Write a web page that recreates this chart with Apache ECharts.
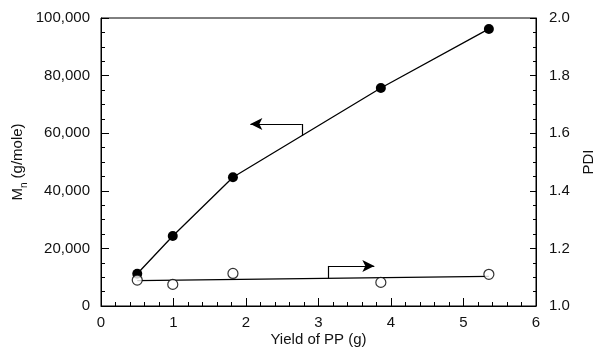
<!DOCTYPE html>
<html>
<head>
<meta charset="utf-8">
<script src="https://cdn.jsdelivr.net/npm/echarts@6/dist/echarts.min.js"></script>
<style>
  html, body { margin: 0; padding: 0; background: #fff; }
  #chart { width: 593px; height: 349px; }
</style>
</head>
<body>
<div id="chart"></div>
<script>
// yield of PP (g)
var yieldPP = [0.5, 0.99, 1.82, 3.86, 5.35];
// Mn (g/mole), filled circles, left axis
var mnValues = [11200, 24300, 44700, 75700, 96200];
// PDI, open circles, right axis
var pdiValues = [1.09, 1.075, 1.113, 1.082, 1.11];
// straight line drawn through the PDI points
var pdiFitX = [0.5, 5.35];
var pdiFitY = [1.088, 1.103];

// arrow pointing at the left axis (Mn)
var mnArrowX = [2.77, 2.06];
var mnArrowY = [59100, 63200];
// arrow pointing at the right axis (PDI)
var pdiArrowX = [3.14, 3.77];
var pdiArrowY = [1.096, 1.139];

var textColor = '#111';
var font = 'Liberation Sans, Arial, Helvetica, sans-serif';

function pairs(xs, ys) {
    var out = [];
    xs.forEach(function (x, i) {
        out.push([x, ys[i]]);
    });
    return out;
}

var chart = echarts.init(document.getElementById('chart'));

chart.setOption({
    animation: false,
    backgroundColor: '#fff',
    textStyle: { fontFamily: font, color: textColor },
    grid: {
        left: 101,
        right: 57,
        top: 18,
        bottom: 43,
        outerBoundsMode: 'none',
        containLabel: false,
        show: true,
        borderColor: '#000',
        borderWidth: 1
    },
    xAxis: {
        type: 'value',
        min: 0,
        max: 6,
        interval: 1,
        name: 'Yield of PP (g)',
        nameLocation: 'middle',
        nameMoveOverlap: false,
        nameGap: 26,
        nameTextStyle: { fontSize: 15, color: textColor, fontFamily: font },
        axisLine: { lineStyle: { color: '#000', width: 1 } },
        axisTick: { inside: true, length: 8, lineStyle: { color: '#000' } },
        minorTick: { show: true, splitNumber: 5, length: 4, lineStyle: { color: '#000' } },
        axisLabel: { fontSize: 15, color: textColor, margin: 9, fontFamily: font },
        splitLine: { show: false }
    },
    yAxis: [
        {
            type: 'value',
            min: 0,
            max: 100000,
            interval: 20000,
            name: '{m|M}{s|n}{m| (g/mole)}',
            nameLocation: 'middle',
            nameMoveOverlap: false,
            nameRotate: 90,
            nameGap: 72,
            nameTextStyle: {
                color: textColor,
                fontFamily: font,
                rich: {
                    m: { fontSize: 15, color: textColor, fontFamily: font },
                    s: { fontSize: 10, color: textColor, fontFamily: font, padding: [12, 0, 0, 0] }
                }
            },
            axisLine: { show: true, lineStyle: { color: '#000', width: 1 } },
            axisTick: { inside: true, length: 8, lineStyle: { color: '#000' } },
            minorTick: { show: true, splitNumber: 4, length: 4, lineStyle: { color: '#000' } },
            axisLabel: {
                fontSize: 15,
                color: textColor,
                margin: 11,
                fontFamily: font,
                formatter: function (v) { return v.toLocaleString('en-US'); }
            },
            splitLine: { show: false }
        },
        {
            type: 'value',
            position: 'right',
            min: 1.0,
            max: 2.0,
            interval: 0.2,
            name: 'PDI',
            nameLocation: 'middle',
            nameMoveOverlap: false,
            nameRotate: 90,
            nameGap: 45,
            nameTextStyle: { fontSize: 15, color: textColor, fontFamily: font },
            axisLine: { show: true, lineStyle: { color: '#000', width: 1 } },
            axisTick: { inside: true, length: 6, lineStyle: { color: '#000' } },
            minorTick: { show: true, splitNumber: 4, length: 3, lineStyle: { color: '#000' } },
            axisLabel: {
                fontSize: 15,
                color: textColor,
                margin: 13,
                fontFamily: font,
                formatter: function (v) { return v.toFixed(1); }
            },
            splitLine: { show: false }
        }
    ],
    series: [
        {
            name: 'Mn',
            type: 'line',
            yAxisIndex: 0,
            data: pairs(yieldPP, mnValues),
            symbol: 'circle',
            symbolSize: 10,
            itemStyle: { color: '#000' },
            lineStyle: { color: '#000', width: 1.3 },
            z: 5,
            markLine: {
                silent: true,
                symbol: ['none', 'none'],
                lineStyle: { color: '#000', width: 1.2, type: 'solid' },
                label: { show: false },
                data: [
                    [
                        { coord: [mnArrowX[0], mnArrowY[0]] },
                        { coord: [mnArrowX[0], mnArrowY[1]] }
                    ],
                    [
                        { coord: [mnArrowX[0], mnArrowY[1]], symbol: 'none' },
                        { coord: [mnArrowX[1], mnArrowY[1]], symbol: 'arrow', symbolSize: [9, 12] }
                    ]
                ]
            }
        },
        {
            name: 'PDI fit',
            type: 'line',
            yAxisIndex: 1,
            data: pairs(pdiFitX, pdiFitY),
            symbol: 'none',
            lineStyle: { color: '#000', width: 1.2 },
            z: 3,
            markLine: {
                silent: true,
                symbol: ['none', 'none'],
                lineStyle: { color: '#000', width: 1.2, type: 'solid' },
                label: { show: false },
                data: [
                    [
                        { coord: [pdiArrowX[0], pdiArrowY[0]] },
                        { coord: [pdiArrowX[0], pdiArrowY[1]] }
                    ],
                    [
                        { coord: [pdiArrowX[0], pdiArrowY[1]], symbol: 'none' },
                        { coord: [pdiArrowX[1], pdiArrowY[1]], symbol: 'arrow', symbolSize: [9, 12] }
                    ]
                ]
            }
        },
        {
            name: 'PDI',
            type: 'scatter',
            yAxisIndex: 1,
            data: pairs(yieldPP, pdiValues),
            symbol: 'circle',
            symbolSize: 10,
            itemStyle: { color: '#fff', borderColor: '#000', borderWidth: 1.2 },
            z: 6
        }
    ]
});
</script>
</body>
</html>
